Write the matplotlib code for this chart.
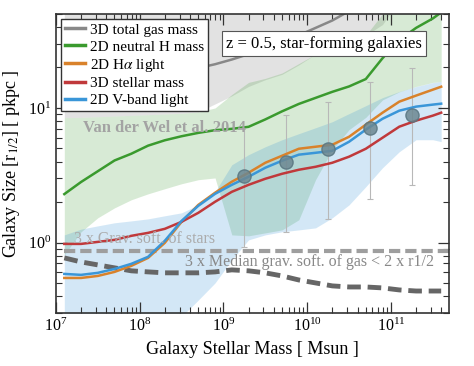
import matplotlib
matplotlib.use("Agg")
import matplotlib.pyplot as plt
import numpy as np

plt.rcParams['font.family'] = ['Liberation Serif', 'DejaVu Serif']
plt.rcParams['mathtext.fontset'] = 'stix'

# stellar mass bins (log10 Msun)
log_mstar = [7.1, 7.3, 7.5, 7.7, 7.9, 8.1, 8.3, 8.5, 8.7, 8.9, 9.1, 9.3,
             9.5, 9.7, 9.9, 10.1, 10.3, 10.5, 10.7, 10.9, 11.1, 11.3, 11.5, 11.6]

# median sizes, log10 pkpc
log_r_gas = [1.08, 1.11, 1.14, 1.17, 1.20, 1.225, 1.25, 1.275, 1.297, 1.325, 1.36, 1.40,
             1.45, 1.50, 1.54, 1.595, 1.65, 1.72, 1.79, 1.86, 1.93, 2.0, 2.06, 2.1]
log_r_hi = [0.36, 0.45, 0.53, 0.61, 0.66, 0.72, 0.76, 0.79, 0.815, 0.835, 0.845, 0.86,
            0.915, 0.975, 1.03, 1.075, 1.12, 1.16, 1.215, 1.37, 1.505, 1.595, 1.665, 1.71]
log_r_halpha = [-0.263, -0.263, -0.248, -0.218, -0.173, -0.114, -0.002, 0.154, 0.28, 0.37, 0.452, 0.519,
                0.593, 0.645, 0.697, 0.712, 0.727, 0.786, 0.876, 0.965, 1.047, 1.092, 1.136, 1.158]
log_r_stars = [-0.01, -0.01, 0.005, 0.02, 0.05, 0.072, 0.102, 0.154, 0.221, 0.303, 0.377, 0.429,
               0.474, 0.511, 0.541, 0.563, 0.593, 0.638, 0.697, 0.779, 0.861, 0.906, 0.943, 0.965]
log_r_vband = [-0.233, -0.24, -0.225, -0.196, -0.158, -0.106, 0.013, 0.161, 0.273, 0.362, 0.429, 0.489,
               0.556, 0.608, 0.653, 0.667, 0.682, 0.749, 0.839, 0.92, 0.98, 1.01, 1.025, 1.032]

# scatter bands, log10 pkpc
gas_lo = [0.928, 0.93, 0.935, 0.94, 0.945, 0.95, 0.955, 0.96, 0.97, 1.03, 1.09, 1.16,
          1.21, 1.25, 1.32, 1.40, 1.43, 1.48, 1.54, 1.62, 1.8, 1.9, 2.0, 2.0]
gas_hi = [2.2] * 24
hi_lo = [-0.092, 0.08, 0.184, 0.258, 0.318, 0.362, 0.40, 0.437, 0.467, 0.48, 0.057, 0.05,
         0.072, 0.094, 0.169, 0.467, 0.69, 0.839, 0.93, 1.06, 1.12, 1.16, 1.19, 1.196]
hi_hi = [0.928, 0.93, 0.935, 0.94, 0.945, 0.95, 0.955, 0.96, 0.97, 1.0, 1.10, 1.19,
         1.22, 1.26, 1.33, 1.40, 1.43, 1.48, 1.54, 1.7, 1.9, 2.0, 2.0, 2.0]
vband_lo = [-0.6, -0.6, -0.6, -0.6, -0.6, -0.6, -0.6, -0.55, -0.427, -0.30, -0.129, 0.02,
            0.057, 0.08, 0.094, 0.109, 0.184, 0.28, 0.415, 0.556, 0.675, 0.764, 0.764, 0.75]
vband_hi = [0.057, 0.10, 0.124, 0.147, 0.161, 0.176, 0.199, 0.221, 0.28, 0.377, 0.578, 0.653,
            0.712, 0.764, 0.809, 0.853, 0.898, 0.958, 1.017, 1.077, 1.122, 1.159, 1.189, 1.196]

# resolution limits
log_r_soft_gas = [-0.114, -0.144, -0.166, -0.188, -0.21, -0.218, -0.225, -0.225, -0.225, -0.218, -0.203, -0.21,
                  -0.225, -0.248, -0.278, -0.30, -0.322, -0.33, -0.33, -0.337, -0.352, -0.36, -0.36, -0.36]
soft_stars = 3 * 0.288

# Van der Wel et al. 2014 (late types)
vdw_logm = [9.25, 9.75, 10.25, 10.75, 11.25]
vdw_r = [3.14, 3.95, 4.98, 7.08, 8.92]
vdw_r_lo = [0.93, 1.20, 1.50, 2.11, 2.69]
vdw_r_hi = [7.26, 8.92, 11.04, 15.56, 19.95]

mstar = 10**np.array(log_mstar)
p = lambda a: 10**np.array(a)

fig = plt.figure(figsize=(4.74, 3.66), dpi=100)
ax = fig.add_axes([0.118, 0.145, 0.829, 0.817])

ax.fill_between(mstar, p(gas_lo), p(gas_hi), color='#9a9a9a', alpha=0.28, lw=0)
ax.fill_between(mstar, p(hi_lo), p(hi_hi), color='#3a9a2e', alpha=0.2, lw=0)
ax.fill_between(mstar, p(vband_lo), p(vband_hi), color='#3a96d8', alpha=0.22, lw=0)

ax.plot([mstar[0], 1e12], [soft_stars, soft_stars], color='#9e9e9e', lw=3,
        dashes=(2.7, 1.2))
ax.plot(mstar, p(log_r_soft_gas), color='#666666', lw=3.5, dashes=(2.8, 1.4))

vm = 10**np.array(vdw_logm)
vr = np.array(vdw_r)
yerr = [vr - np.array(vdw_r_lo), np.array(vdw_r_hi) - vr]
ax.errorbar(vm, vr, yerr=yerr, fmt='none', ecolor='#b8b8b8', elinewidth=0.8,
            capsize=2.5, capthick=0.8, zorder=2)

l1, = ax.plot(mstar, p(log_r_gas), color='#888888', lw=1.8, label='3D total gas mass')
l2, = ax.plot(mstar, p(log_r_hi), color='#3a9a2e', lw=1.8, label='2D neutral H mass')
l3, = ax.plot(mstar, p(log_r_halpha), color='#d9822b', lw=1.8, label=r'2D H$\alpha$ light')
l4, = ax.plot(mstar, p(log_r_stars), color='#c0393b', lw=1.8, label='3D stellar mass')
l5, = ax.plot(mstar, p(log_r_vband), color='#3a96d8', lw=1.8, label='2D V-band light')

ax.plot(vm, vr, 'o', ms=9.5, color='#6c8791', mec='#587580', alpha=0.85, zorder=5)

ax.text(2.1e7, 7.1, 'Van der Wel et al. 2014', fontsize=12, fontweight='bold',
        color='#a3a3a3', ha='left', va='center')
ax.text(1.64e7, 1.06, '3 x Grav. soft. of stars', fontsize=11.5, color='#ababab',
        ha='left', va='center')
ax.text(3.5e8, 0.718, '3 x Median grav. soft. of gas < 2 x r1/2', fontsize=11.5,
        color='#888888', ha='left', va='center')
ax.text(0.683, 0.901, 'z = 0.5, star-forming galaxies', transform=ax.transAxes,
        fontsize=12, ha='center', va='center',
        bbox=dict(facecolor='white', edgecolor='#555555', lw=0.8, pad=3))

leg = ax.legend(handles=[l1, l2, l3, l4, l5], loc='upper left', fontsize=11,
                framealpha=1, fancybox=False, edgecolor='#333333',
                handlelength=1.3, handletextpad=0.35, labelspacing=0.2,
                borderaxespad=0.35, borderpad=0.25)
leg.get_frame().set_linewidth(1.0)
for h in leg.get_lines():
    h.set_linewidth(2.5)

ax.set_xscale('log')
ax.set_yscale('log')
ax.set_xlim(1e7, 4.92e11)
ax.set_ylim(0.3, 50)
ax.set_xlabel('Galaxy Stellar Mass [ Msun ]', fontsize=13)
ax.set_ylabel('Galaxy Size [r$_{1/2}$] [ pkpc ]', fontsize=13)
ax.tick_params(which='both', direction='in', top=True, right=True, labelsize=11.5,
               color='#333333')
ax.tick_params(which='major', length=8, width=0.9)
ax.tick_params(which='minor', length=4.5, width=0.8)
for s in ax.spines.values():
    s.set_linewidth(1.2)
    s.set_color('#333333')

fig.savefig('out.png', dpi=100)
